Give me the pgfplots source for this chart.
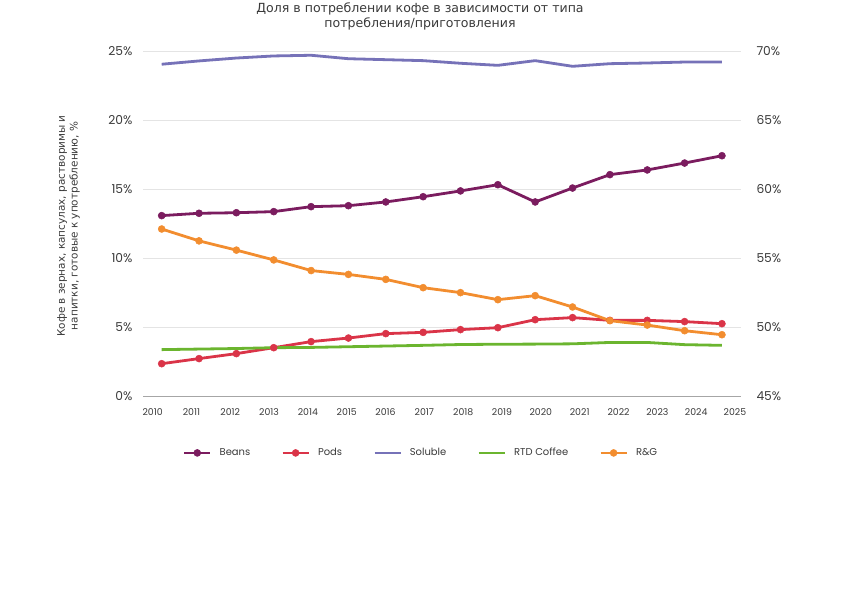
\documentclass[border=0pt]{standalone}
\usepackage{pgfplots}
\pgfplotsset{compat=1.18}
\usepackage{pgfplotstable}
\usepackage{fontspec}
\setmainfont{Poppins}
\newfontfamily\cyr{DejaVu Sans}
\definecolor{beans}{HTML}{7B1C5F}
\definecolor{pods}{HTML}{DA3448}
\definecolor{soluble}{HTML}{7672B8}
\definecolor{rtd}{HTML}{6BB52F}
\definecolor{rg}{HTML}{F28D2F}
\definecolor{txt}{HTML}{3A3A3A}
\definecolor{gridc}{HTML}{E4E4E4}

\pgfplotstableread{
year beans pods rtd rg soluble
2010 13.07 2.34 3.36 12.10 69.04
2011 13.24 2.71 3.40 11.24 69.28
2012 13.28 3.07 3.44 10.57 69.49
2013 13.36 3.50 3.50 9.86 69.64
2014 13.72 3.94 3.52 9.09 69.69
2015 13.79 4.20 3.57 8.81 69.44
2016 14.06 4.52 3.62 8.45 69.37
2017 14.44 4.61 3.67 7.85 69.30
2018 14.86 4.81 3.73 7.49 69.11
2019 15.31 4.95 3.75 6.98 68.96
2020 14.06 5.53 3.76 7.27 69.30
2021 15.07 5.68 3.78 6.45 68.89
2022 16.04 5.48 3.88 5.46 69.08
2023 16.38 5.48 3.88 5.14 69.13
2024 16.88 5.39 3.72 4.73 69.20
2025 17.41 5.24 3.67 4.44 69.20
}\data

\pgfplotsset{
  myaxis/.style={
    scale only axis, width=598bp, height=345bp,
    at={(143bp,199bp)}, anchor=south west,
    xmin=2009.753, xmax=2025.155,
    /pgf/number format/assume math mode=true,
    tick style={draw=none}, major tick length=0pt,
    ticklabel style={font=\fontsize{12.3}{14}\selectfont, text=txt},
  },
  pl/.style={line width=2.8bp, line join=round, mark=*, mark size=3.5bp, mark options={solid, line width=0.5bp}},
}

\begin{document}
\begin{tikzpicture}[x=1bp,y=1bp]
\path[use as bounding box] (0,0) rectangle (842,595);
\node[align=center, font=\cyr\fontsize{12.6}{15}\selectfont, text=txt] at (420,578.5)
  {Доля в потреблении кофе в зависимости от типа\\потребления/приготовления};
\node[rotate=90, align=center, font=\cyr\fontsize{10.5}{13}\selectfont, text=txt] at (68.5,369)
  {Кофе в зернах, капсулах, растворимы и\\напитки, готовые к употреблению, \%};

% right axis (Soluble)
\begin{axis}[myaxis,
  ymin=45, ymax=70, ytick={45,50,...,70},
  axis y line*=right, axis x line=none,
  y axis line style={draw=none},
  yticklabel={\pgfmathprintnumber{\tick}\%},
  yticklabel style={anchor=west, xshift=12bp},
]
\addplot[soluble, line width=2.8bp, line join=round, no markers]
  table[x expr=2010.234+(\thisrow{year}-2010)*0.962, y=soluble] {\data};
\end{axis}

% left axis
\begin{axis}[myaxis,
  ymin=0, ymax=25, ytick={0,5,...,25},
  axis x line*=bottom, axis y line*=left,
  y axis line style={draw=none},
  x axis line style={draw=gray!70, line width=0.8bp, -},
  ymajorgrids, grid style={gridc, line width=0.8bp},
  xtick={2010,2011,...,2025},
  xticklabel={\pgfmathprintnumber[1000 sep={}]{\tick}},
  xticklabel style={font=\fontsize{9.4}{11}\selectfont, yshift=-9bp},
  yticklabel={\pgfmathprintnumber{\tick}\%},
  yticklabel style={xshift=-7bp},
  legend columns=5,
  legend style={at={(0.4649,-0.165)}, anchor=center, draw=none, fill=none,
    font=\fontsize{10}{12}\selectfont, text=txt,
    /tikz/every even column/.append style={column sep=29bp}},
  legend image code/.code={\draw[#1, mark repeat=2, mark phase=2] plot coordinates {(0bp,0bp) (13bp,0bp) (26bp,0bp)}; \path (32bp,0bp);},
]
\addplot[beans, pl] table[x expr=2010.234+(\thisrow{year}-2010)*0.962, y=beans] {\data};
\addlegendentry{Beans}
\addplot[pods, pl] table[x expr=2010.234+(\thisrow{year}-2010)*0.962, y=pods] {\data};
\addlegendentry{Pods}
\addlegendimage{soluble, line width=2.8bp, no markers}
\addlegendentry{Soluble}
\addplot[rtd, line width=2.8bp, line join=round, no markers] table[x expr=2010.234+(\thisrow{year}-2010)*0.962, y=rtd] {\data};
\addlegendentry{RTD Coffee}
\addplot[rg, pl] table[x expr=2010.234+(\thisrow{year}-2010)*0.962, y=rg] {\data};
\addlegendentry{R\&G}
\end{axis}
\end{tikzpicture}
\end{document}
